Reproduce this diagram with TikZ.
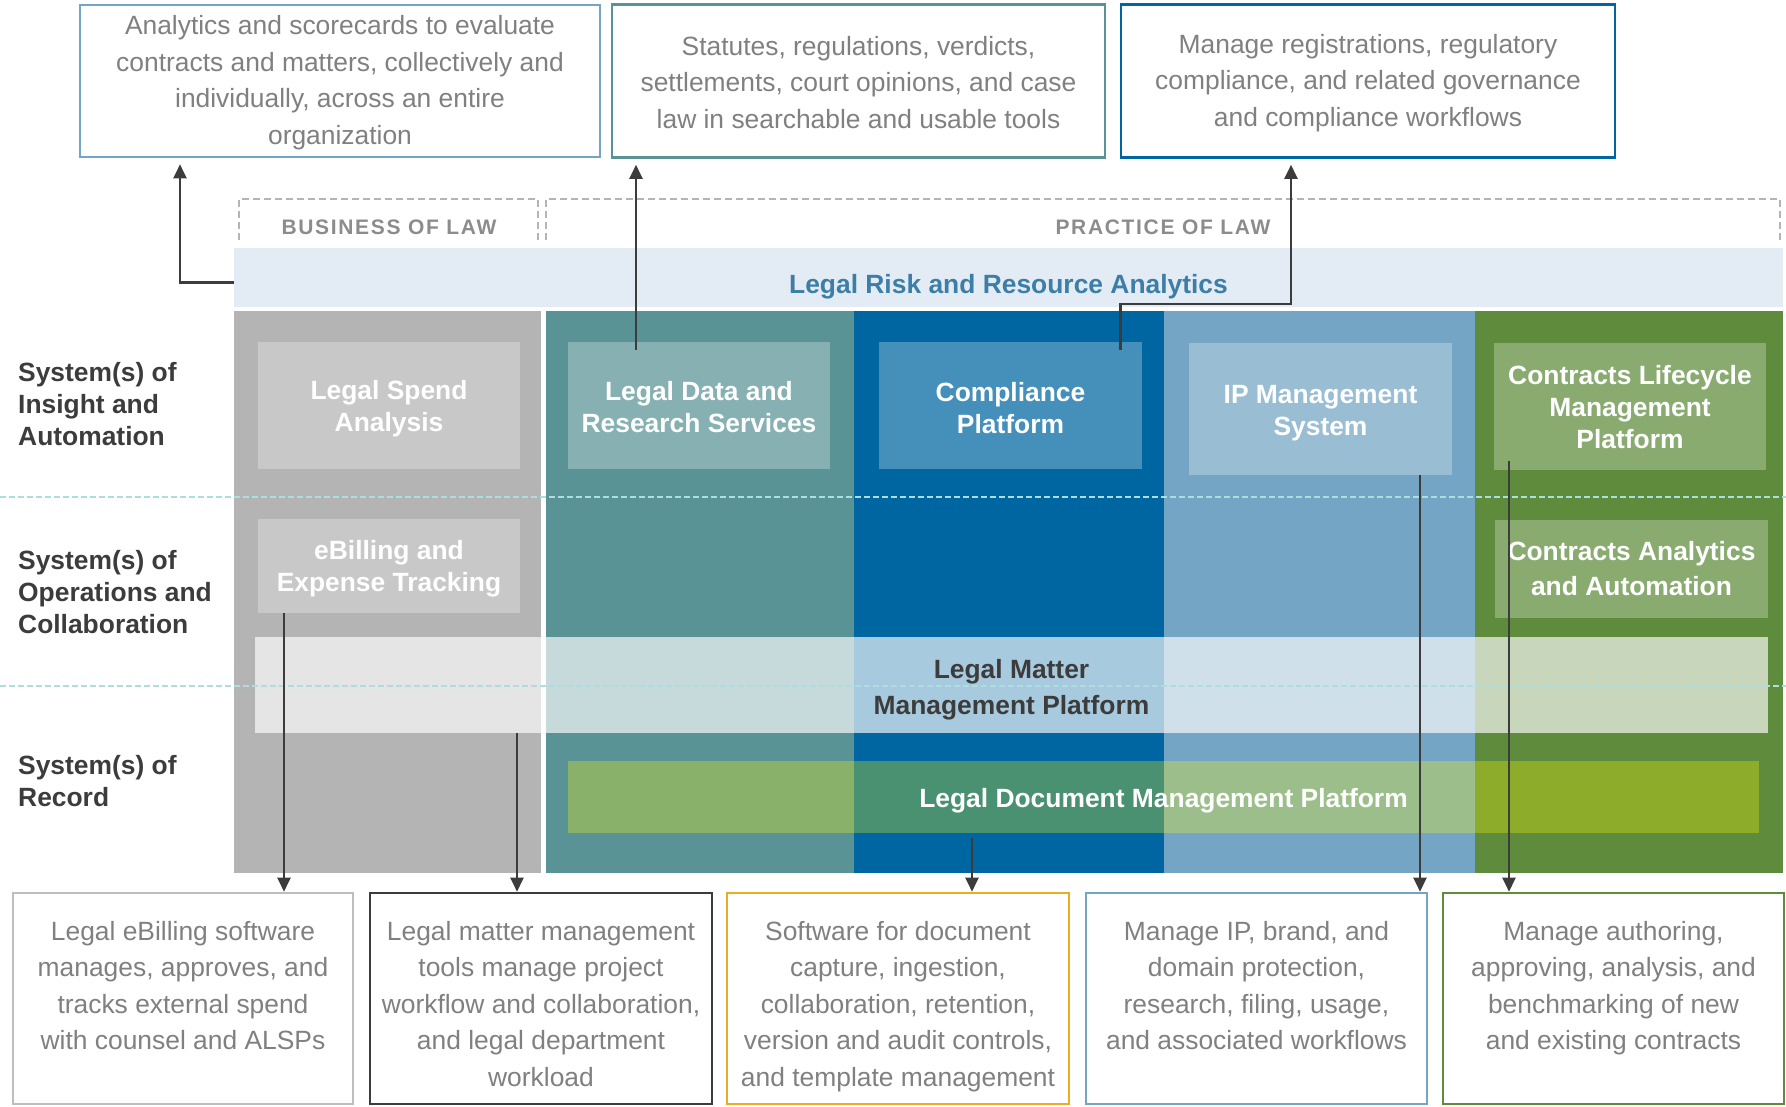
\documentclass[tikz,border=0pt]{standalone}
\usepackage{fontspec}
\setmainfont{Liberation Sans}
\newfontfamily\capsfont[LetterSpace=8]{Liberation Sans}
\usetikzlibrary{arrows.meta, positioning, calc}
\definecolor{ColGray}{RGB}{180,180,180}
\definecolor{ColTeal}{RGB}{90,147,150}
\definecolor{ColBlue}{RGB}{0,102,162}
\definecolor{ColSky}{RGB}{116,165,196}
\definecolor{ColGreen}{RGB}{94,140,60}
\definecolor{RiskFill}{RGB}{227,236,244}
\definecolor{RiskText}{RGB}{61,126,166}
\definecolor{LineCyan}{RGB}{172,222,224}
\definecolor{DarkText}{RGB}{60,60,60}
\definecolor{DescText}{RGB}{128,128,128}
\definecolor{HeadText}{RGB}{140,140,140}
\definecolor{HeadLine}{RGB}{180,180,180}
\definecolor{BoxGray}{RGB}{190,190,190}
\definecolor{Gold}{RGB}{232,176,32}
\definecolor{DocYellow}{RGB}{255,252,0}
% first-line strut, pushes a centred text block down
\newcommand{\lift}[1]{\rule{0pt}{#1}}

\begin{document}
\begin{tikzpicture}[x=1pt, y=-1pt,
  col/.style={rectangle, inner sep=0pt, minimum height=562pt, anchor=north west},
  drop/.style={execute at begin node={\rule{0pt}{#1}}},
  sys/.style={rectangle, inner sep=0pt, fill=white, fill opacity=0.27, text opacity=1,
    text=white, align=center, font=\bfseries\fontsize{26.4}{32}\selectfont},
  bar/.style={rectangle, inner sep=0pt, align=center, text opacity=1,
    font=\bfseries\fontsize{26.4}{36}\selectfont},
  tier/.style={anchor=west, align=left, inner sep=0pt, text=DarkText,
    font=\bfseries\fontsize{26.4}{32}\selectfont},
  head/.style={inner sep=0pt, text=HeadText, font=\capsfont\bfseries\fontsize{21}{25}\selectfont},
  hdash/.style={draw=HeadLine, line width=1.8pt, dash pattern=on 7pt off 4pt},
  rowline/.style={draw=LineCyan, line width=1.6pt, dash pattern=on 6pt off 3pt},
  desc/.style={rectangle, line width=2.6pt, fill=white, inner sep=0pt, align=center,
    text=DescText, font=\fontsize{26.4}{36.5}\selectfont},
  desctext/.style={anchor=north, inner sep=0pt, align=center, text=DescText,
    font=\fontsize{26.4}{36.5}\selectfont},
  arr/.style={-{Triangle[length=14pt, width=13pt]}, line width=2.2pt, draw=DarkText}
]
  \useasboundingbox (0,0) rectangle (1786,1106);

  % columns
  \node[col, fill=ColGray,  minimum width=307pt] (cbiz)   at (234,311)  {};
  \node[col, fill=ColTeal,  minimum width=308pt] (cdata)  at (546,311)  {};
  \node[col, fill=ColBlue,  minimum width=310pt] (ccomp)  at (854,311)  {};
  \node[col, fill=ColSky,   minimum width=311pt] (cip)    at (1164,311) {};
  \node[col, fill=ColGreen, minimum width=308pt] (cctr)   at (1475,311) {};

  % headers
  \draw[hdash] (239,240) |- (538,199) -- (538,240);
  \draw[hdash] (546,240) |- (1780,199) -- (1780,240);
  \node[head] (hbiz)  at (389,227)  {BUSINESS OF LAW};
  \node[head] (hprac) at (1163,227) {PRACTICE OF LAW};

  \node[bar, fill=RiskFill, text=RiskText, minimum width=1549pt, minimum height=59pt, drop=37pt]
    (risk) at (1008.5,277.5) {Legal Risk and Resource Analytics};

  % systems
  \node[sys, minimum width=262pt, minimum height=127pt] (lspend) at (389,405.5)   {\lift{25pt}Legal Spend\\Analysis};
  \node[sys, minimum width=262pt, minimum height=127pt] (ldata)  at (699,405.5)   {\lift{22pt}Legal Data and\\Research Services};
  \node[sys, minimum width=263pt, minimum height=127pt] (comp)   at (1010.5,405.5) {\lift{24pt}Compliance\\Platform};
  \node[sys, minimum width=263pt, minimum height=132pt] (ipm)    at (1320.5,409)  {\lift{27pt}IP Management\\System};
  \node[sys, minimum width=272pt, minimum height=127pt] (clm)    at (1630,406.5)  {\lift{21pt}Contracts Lifecycle\\Management\\Platform};
  \node[sys, minimum width=262pt, minimum height=94pt]  (ebill)  at (389,566)     {\lift{25pt}eBilling and\\Expense Tracking};
  \node[sys, minimum width=273pt, minimum height=98pt, font=\bfseries\fontsize{26.4}{35}\selectfont]
    (cana) at (1631.5,569) {Contracts Analytics\\and Automation};

  \node[bar, fill=white, fill opacity=0.66, text=DarkText, minimum width=1513pt, minimum height=96pt]
    (matter) at (1011.5,685) {\lift{28.5pt}Legal Matter\\Management Platform};
  \node[bar, fill=DocYellow, fill opacity=0.29, text=white, minimum width=1191pt, minimum height=72pt, drop=26.5pt]
    (doc) at (1163.5,797) {Legal Document Management Platform};

  \draw[rowline] (0,497) -- (1786,497);
  \draw[rowline] (0,686) -- (1786,686);

  % tiers
  \node[tier] (tins) at (18,404.5) {System(s) of\\Insight and\\Automation};
  \node[tier] (tops) at (18,592)   {System(s) of\\Operations and\\Collaboration};
  \node[tier] (trec) at (18,781)   {System(s) of\\Record};

  % top descriptions
  \node[desc, draw=ColSky,  minimum width=520pt, minimum height=152pt] (ana)  at (340,81)
    {\lift{22.5pt}Analytics and scorecards to evaluate\\contracts and matters, collectively and\\individually, across an entire\\organization};
  \node[desc, draw=ColTeal, minimum width=493pt, minimum height=153pt] (stat) at (858.5,81)
    {\lift{21.5pt}Statutes, regulations, verdicts,\\settlements, court opinions, and case\\law in searchable and usable tools};
  \node[desc, draw=ColBlue, minimum width=494pt, minimum height=153pt] (regs) at (1368,81)
    {\lift{22.5pt}Manage registrations, regulatory\\compliance, and related governance\\and compliance workflows};

  % bottom descriptions
  \node[desc, draw=BoxGray,  minimum width=340pt, minimum height=211pt] (dbill)   at (183,998.5)    {};
  \node[desc, draw=DarkText, minimum width=342pt, minimum height=211pt] (dmatter) at (541,998.5)    {};
  \node[desc, draw=Gold,     minimum width=342pt, minimum height=211pt] (ddoc)    at (898,998.5)    {};
  \node[desc, draw=ColSky,   minimum width=341pt, minimum height=211pt] (dip)     at (1256.5,998.5) {};
  \node[desc, draw=ColGreen, minimum width=341pt, minimum height=211pt] (dctr)    at (1613.5,998.5) {};
  \node[desctext, below=29pt of dbill.north]
    {Legal eBilling software\\manages, approves, and\\tracks external spend\\with counsel and ALSPs};
  \node[desctext, below=29pt of dmatter.north]
    {Legal matter management\\tools manage project\\workflow and collaboration,\\and legal department\\workload};
  \node[desctext, below=29pt of ddoc.north]
    {Software for document\\capture, ingestion,\\collaboration, retention,\\version and audit controls,\\and template management};
  \node[desctext, below=29pt of dip.north]
    {Manage IP, brand, and\\domain protection,\\research, filing, usage,\\and associated workflows};
  \node[desctext, below=29pt of dctr.north]
    {Manage authoring,\\approving, analysis, and\\benchmarking of new\\and existing contracts};

  % connectors
  \draw[arr, shorten >=6pt] ([yshift=-5pt]risk.west) -| ([xshift=-160pt]ana.south);
  \draw[arr, shorten >=6pt] ([xshift=-63pt, yshift=-8pt]ldata.north) -- ([xshift=-63pt]ldata.north |- stat.south);
  \draw[arr, shorten >=6pt] ([xshift=110pt, yshift=-8pt]comp.north) -- ++(0,-46) -| ([xshift=-77pt]regs.south);
  \draw[arr] ([xshift=-105pt]ebill.south) -- ([xshift=-105pt]ebill.south |- dbill.north);
  \draw[arr] ([xshift=-24pt]dmatter.north |- matter.south) -- ([xshift=-24pt]dmatter.north);
  \draw[arr] ([xshift=74pt, yshift=-5pt]ddoc.north |- doc.south) -- ([xshift=74pt]ddoc.north);
  \draw[arr] ([xshift=99.5pt]ipm.south) -- ([xshift=99.5pt]ipm.south |- dip.north);
  \draw[arr] ([xshift=-121pt, yshift=9pt]clm.south) -- ([xshift=-121pt]clm.south |- dctr.north);
\end{tikzpicture}
\end{document}
